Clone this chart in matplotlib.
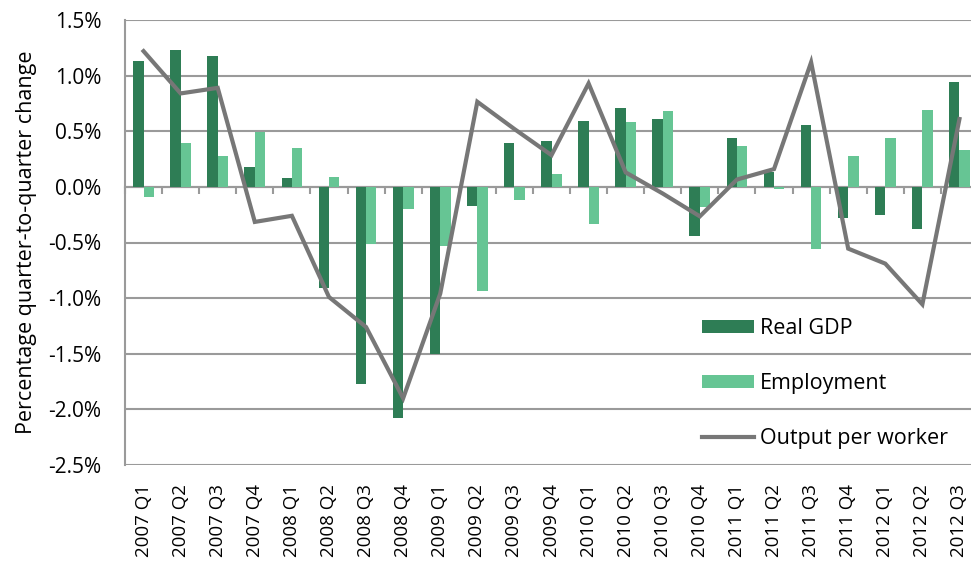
import matplotlib
matplotlib.use("Agg")
import matplotlib.pyplot as plt
import numpy as np

quarters = ["2007 Q1", "2007 Q2", "2007 Q3", "2007 Q4",
            "2008 Q1", "2008 Q2", "2008 Q3", "2008 Q4",
            "2009 Q1", "2009 Q2", "2009 Q3", "2009 Q4",
            "2010 Q1", "2010 Q2", "2010 Q3", "2010 Q4",
            "2011 Q1", "2011 Q2", "2011 Q3", "2011 Q4",
            "2012 Q1", "2012 Q2", "2012 Q3"]
real_gdp = [1.13, 1.23, 1.18, 0.18, 0.08, -0.91, -1.77, -2.08,
            -1.50, -0.175, 0.39, 0.41, 0.59, 0.71, 0.61, -0.44,
            0.44, 0.135, 0.56, -0.28, -0.255, -0.38, 0.94]
employment = [-0.09, 0.39, 0.28, 0.49, 0.345, 0.085, -0.51, -0.195,
              -0.53, -0.935, -0.12, 0.115, -0.33, 0.58, 0.68, -0.18,
              0.37, -0.02, -0.555, 0.28, 0.44, 0.69, 0.335]
output_per_worker = [1.22, 0.84, 0.89, -0.315, -0.26, -0.99, -1.26, -1.90,
                     -0.96, 0.765, 0.52, 0.285, 0.93, 0.13, -0.06, -0.265,
                     0.066, 0.16, 1.12, -0.555, -0.69, -1.056, 0.61]
yticks = [-2.5, -2.0, -1.5, -1.0, -0.5, 0.0, 0.5, 1.0, 1.5]

plt.rcParams['font.family'] = ['Open Sans', 'DejaVu Sans']

dark = '#2e7d55'
light = '#66c594'
grey_line = '#777777'
grid_c = '#9a9a9a'

fig = plt.figure(figsize=(9.71, 5.71), dpi=100)
ax = fig.add_axes([125/971, 1-465/571, 853/971, 445/571])

x = np.arange(len(quarters))
w = 0.28
b1 = ax.bar(x - w/2, real_gdp, width=w, color=dark, label='Real GDP', zorder=3)
b2 = ax.bar(x + w/2, employment, width=w, color=light, label='Employment', zorder=3)
l1, = ax.plot(x, output_per_worker, color=grey_line, lw=3.0, label='Output per worker',
              zorder=4, solid_joinstyle='miter')

ax.set_xlim(-0.5, len(quarters) - 0.5)
ax.set_ylim(-2.5, 1.5)
ax.set_yticks(yticks)
ax.set_yticklabels([f"{v:.1f}%" for v in yticks], fontsize=15)
ax.tick_params(axis='y', length=0, pad=17)
ax.yaxis.grid(True, color=grid_c, lw=1.5, zorder=0)
ax.set_axisbelow(True)

for s in ['top', 'right']:
    ax.spines[s].set_visible(False)
ax.spines['left'].set_color(grid_c)
ax.spines['left'].set_linewidth(1.5)
ax.spines['bottom'].set_position(('data', 0))
ax.spines['bottom'].set_color(grid_c)
ax.spines['bottom'].set_linewidth(1.5)
ax.spines['bottom'].set_zorder(2)
ax.set_xticks(np.arange(len(quarters) + 1) - 0.5)
ax.set_xticklabels([])
ax.tick_params(axis='x', length=5, width=1.5, color=grid_c, direction='out')

sec = ax.secondary_xaxis('bottom')
sec.set_xticks(x)
sec.set_xticklabels(quarters, rotation=90, fontsize=13.5)
sec.tick_params(length=0, pad=14)
sec.spines['bottom'].set_visible(False)

ax.set_ylabel('Percentage quarter-to-quarter change', fontsize=15.5, labelpad=8)

leg = ax.legend(handles=[b1, b2, l1], loc='center left',
                bbox_to_anchor=(0.664, 0.183), frameon=False,
                fontsize=15.5, handlelength=2.4, handleheight=0.55,
                labelspacing=1.58, handletextpad=0.28, borderpad=0)

fig.savefig('out.png', dpi=100)
